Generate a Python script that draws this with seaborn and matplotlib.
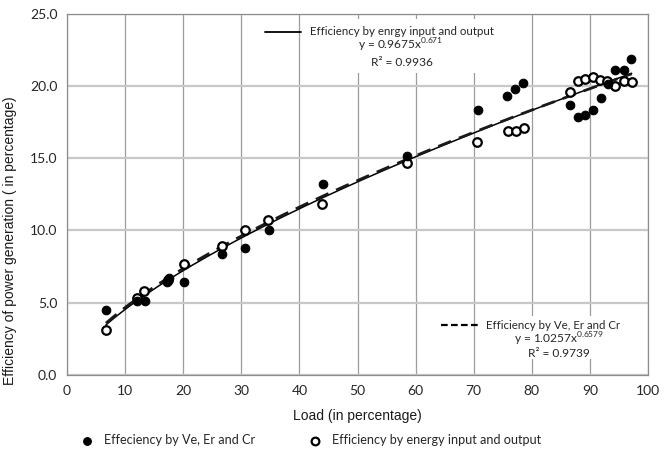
import numpy as np
import pandas as pd
import matplotlib.pyplot as plt
import seaborn as sns
from matplotlib.patches import Rectangle


# ----------------------------- Data -----------------------------

# filled dots: efficiency worked out from Ve, Er and Cr
load_ver = [6.7, 12.0, 13.5, 17.2, 17.5, 20.1, 26.7, 30.7, 34.7, 44.0, 58.5,
            70.7, 75.8, 77.1, 78.5, 86.5, 87.9, 89.1, 90.5, 91.9, 93.2, 94.4, 95.8, 97.1]
eff_ver = [4.5, 5.1, 5.1, 6.45, 6.7, 6.45, 8.4, 8.8, 10.0, 13.2, 15.15,
           18.3, 19.3, 19.75, 20.2, 18.65, 17.85, 18.0, 18.35, 19.15, 20.15, 21.1, 21.1, 21.85]

# open dots: efficiency from energy input and output
load_io = [6.7, 12.0, 13.3, 17.3, 20.1, 26.7, 30.7, 34.6, 43.9, 58.5,
           70.6, 75.9, 77.3, 78.6, 86.6, 88.0, 89.2, 90.5, 91.8, 93.0, 94.4, 95.9, 97.2]
eff_io = [3.1, 5.3, 5.8, 6.6, 7.7, 8.9, 10.0, 10.7, 11.8, 14.65,
          16.1, 16.9, 16.9, 17.05, 19.6, 20.3, 20.5, 20.6, 20.4, 20.3, 20.0, 20.3, 20.25]

# power trendlines y = a * x^b, coefficients as printed on the chart
fit_io = (0.9675, 0.671)
fit_ver = (1.0257, 0.6579)
r2_io = 0.9936
r2_ver = 0.9739

x_ticks = list(range(0, 101, 10))
y_ticks = [0.0, 5.0, 10.0, 15.0, 20.0, 25.0]

label_ver = "Effeciency by Ve, Er and Cr"
label_io = "Efficiency by energy input and output"
trend_io = "Efficiency by enrgy input and output"
trend_ver = "Efficiency by Ve, Er and Cr"


# ----------------------------- Plot -----------------------------

sns.set_theme(style="white")
plt.rcParams['font.family'] = ['Lato', 'DejaVu Sans']

df_ver = pd.DataFrame({"load": load_ver, "eff": eff_ver})
df_io = pd.DataFrame({"load": load_io, "eff": eff_io})

xs = np.linspace(min(load_io), max(load_io), 200)
df_fit = pd.DataFrame({
    "load": np.concatenate([xs, xs]),
    "eff": np.concatenate([fit_io[0] * xs ** fit_io[1], fit_ver[0] * xs ** fit_ver[1]]),
    "fit": ["io"] * len(xs) + ["ver"] * len(xs),
})

fig, ax = plt.subplots(figsize=(6.65, 4.55), dpi=100)
fig.subplots_adjust(left=0.1008, right=0.9744, top=0.9703, bottom=0.1758)

ax.set_axisbelow(True)
ax.xaxis.grid(True, color='#9c9c9c', lw=0.9)
ax.yaxis.grid(True, color='#c8c8c8', lw=1.6)

sns.lineplot(data=df_fit[df_fit.fit == "io"], x="load", y="eff", color='black',
             lw=1.1, ax=ax, legend=False, zorder=3)
sns.lineplot(data=df_fit[df_fit.fit == "ver"], x="load", y="eff", color='#1a1a1a',
             lw=2.0, dashes=False, ax=ax, legend=False, zorder=3)
ax.lines[-1].set_dashes([5, 3])

sns.scatterplot(data=df_ver, x="load", y="eff", color='black', s=38,
                edgecolor='black', linewidth=0.8, ax=ax, zorder=5, label=label_ver)
sns.scatterplot(data=df_io, x="load", y="eff", facecolor='white', s=38,
                edgecolor='black', linewidth=1.6, ax=ax, zorder=4, label=label_io)

ax.set_xlim(0, 100)
ax.set_ylim(0, 25)
ax.set_xticks(x_ticks)
ax.set_yticks(y_ticks)
ax.set_yticklabels([f"{v:.1f}" for v in y_ticks])
ax.tick_params(direction='out', length=4, width=0.8, color='#8c8c8c',
               labelsize=10, labelcolor='#262626', pad=3)

for sp in ax.spines.values():
    sp.set_color('#8c8c8c')
    sp.set_linewidth(0.9)

ax.set_xlabel("Load (in percentage)", fontsize=10, family='Liberation Sans',
              color='#1a1a1a', labelpad=9)
ax.set_ylabel("Efficiency of power generation ( in percentage)", fontsize=10,
              family='Liberation Sans', color='#1a1a1a')
ax.yaxis.set_label_coords(-0.086, 0.371)

# trendline labels (white boxes cover the grid like Excel does)
tr = ax.transAxes
ax.add_patch(Rectangle((0.405, 0.835), 0.334, 0.15, transform=tr,
                       facecolor='white', edgecolor='none', zorder=2))
ax.plot([0.340, 0.403], [0.949, 0.949], transform=tr, color='black', lw=1.3, zorder=3)
ax.text(0.4175, 0.949, trend_io, transform=tr, fontsize=8.3, va='center', ha='left', zorder=3)
ax.text(0.574, 0.912, f"y = {fit_io[0]}x$^{{\\mathregular{{{fit_io[1]}}}}}$", transform=tr,
        fontsize=8.6, va='center', ha='center', zorder=3)
ax.text(0.577, 0.864, f"R² = {r2_io}", transform=tr, fontsize=8.6,
        va='center', ha='center', zorder=3)

ax.add_patch(Rectangle((0.712, 0.045), 0.275, 0.118, transform=tr,
                       facecolor='white', edgecolor='none', zorder=2))
ax.plot([0.644, 0.710], [0.138, 0.138], transform=tr, color='black', lw=1.6,
        dashes=[3, 1.5], zorder=3)
ax.text(0.722, 0.138, trend_ver, transform=tr, fontsize=8.3, va='center', ha='left', zorder=3)
ax.text(0.847, 0.100, f"y = {fit_ver[0]}x$^{{\\mathregular{{{fit_ver[1]}}}}}$", transform=tr,
        fontsize=8.6, va='center', ha='center', zorder=3)
ax.text(0.847, 0.059, f"R² = {r2_ver}", transform=tr, fontsize=8.6,
        va='center', ha='center', zorder=3)

handles, labels = ax.get_legend_handles_labels()
ax.get_legend().remove()
fig.legend(handles, labels, loc='center left', bbox_to_anchor=(0.1045, 0.033), ncol=2,
           frameon=False, fontsize=9.1, handletextpad=0.3, columnspacing=3.8,
           markerscale=0.9, borderaxespad=0)

fig.savefig("out.png", dpi=100)
